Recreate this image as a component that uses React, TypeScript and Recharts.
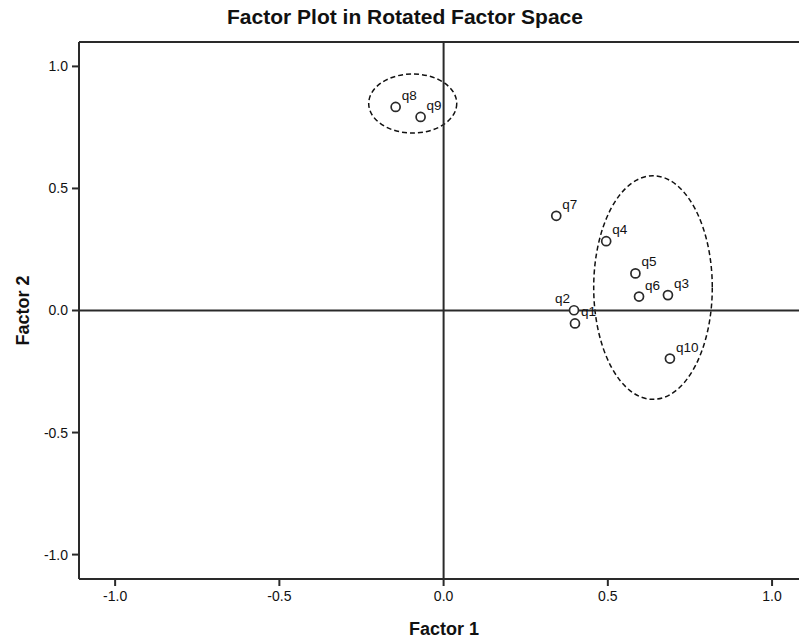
import React from 'react';
import {
  ScatterChart,
  Scatter,
  XAxis,
  YAxis,
  ReferenceLine,
  ReferenceArea,
} from 'recharts';

// ---- data ----
const ITEMS = ['q1', 'q2', 'q3', 'q4', 'q5', 'q6', 'q7', 'q8', 'q9', 'q10'];
const FACTOR1 = [0.4, 0.397, 0.683, 0.495, 0.584, 0.595, 0.343, -0.146, -0.07, 0.689];
const FACTOR2 = [-0.053, 0.001, 0.063, 0.284, 0.152, 0.057, 0.388, 0.834, 0.793, -0.197];
const LABEL_SIDE = ['right', 'left', 'right', 'right', 'right', 'right', 'right', 'right', 'right', 'right'];

const TICKS = [-1.0, -0.5, 0.0, 0.5, 1.0];
const X_DOMAIN: [number, number] = [-1.11, 1.082];
const Y_DOMAIN: [number, number] = [-1.1, 1.1];

// cluster ellipses (bounding boxes in factor units)
const CLUSTER_X1 = [-0.228, 0.457];
const CLUSTER_X2 = [0.04, 0.818];
const CLUSTER_Y1 = [0.727, -0.364];
const CLUSTER_Y2 = [0.969, 0.552];

const TITLE = 'Factor Plot in Rotated Factor Space';
const X_TITLE = 'Factor 1';
const Y_TITLE = 'Factor 2';

const data = ITEMS.map((name, i) => ({
  name,
  x: FACTOR1[i],
  y: FACTOR2[i],
  side: LABEL_SIDE[i],
}));

const FONT = '"Liberation Sans", Arial, Helvetica, sans-serif';
const AXIS_COLOR = '#2a2a2a';

const PointShape = (props: any) => {
  const { cx, cy, payload } = props;
  if (cx == null || cy == null) return null;
  const left = payload.side === 'left';
  return (
    <g>
      <circle cx={cx} cy={cy} r={4.5} fill="#fff" stroke="#2a2a2a" strokeWidth={1.7} />
      <text
        x={left ? cx - 4 : cx + 6}
        y={cy - 7}
        textAnchor={left ? 'end' : 'start'}
        fontFamily={FONT}
        fontSize={13.5}
        fill="#111"
      >
        {payload.name}
      </text>
    </g>
  );
};

const EllipseShape = (props: any) => {
  const { x, y, width, height } = props;
  if (x == null || y == null) return null;
  return (
    <ellipse
      cx={x + width / 2}
      cy={y + height / 2}
      rx={Math.abs(width) / 2}
      ry={Math.abs(height) / 2}
      fill="none"
      stroke="#111"
      strokeWidth={1.5}
      strokeDasharray="5 3"
    />
  );
};

const fmt = (v: number) => v.toFixed(1);

export default function App() {
  return (
    <div style={{ position: 'absolute', left: 0, top: 0, width: 799, height: 639, background: '#fff' }}>
      <div
        style={{
          position: 'absolute',
          left: 0,
          width: 810,
          top: 5,
          textAlign: 'center',
          fontFamily: FONT,
          fontWeight: 'bold',
          fontSize: 21,
          color: '#111',
          lineHeight: '24px',
        }}
      >
        {TITLE}
      </div>
      <ScatterChart width={799} height={639} margin={{ top: 42, right: 0, bottom: 0, left: 0 }}>
        <XAxis
          type="number"
          dataKey="x"
          domain={X_DOMAIN}
          allowDataOverflow
          ticks={TICKS}
          tickFormatter={fmt}
          height={60}
          tickSize={7}
          tickMargin={5}
          stroke={AXIS_COLOR}
          strokeWidth={2}
          tick={{ fontFamily: FONT, fontSize: 14, fill: '#111' }}
          label={{
            content: (p: any) => {
              const vb = p.viewBox || {};
              return (
                <text
                  x={444}
                  y={(vb.y || 579) + 56}
                  textAnchor="middle"
                  fontFamily={FONT}
                  fontWeight="bold"
                  fontSize={18}
                  fill="#111"
                >
                  {X_TITLE}
                </text>
              );
            },
          }}
        />
        <YAxis
          type="number"
          dataKey="y"
          domain={Y_DOMAIN}
          allowDataOverflow
          ticks={TICKS}
          tickFormatter={fmt}
          width={79}
          tickSize={7}
          tickMargin={4}
          stroke={AXIS_COLOR}
          strokeWidth={2}
          tick={{ fontFamily: FONT, fontSize: 14, fill: '#111' }}
          label={{
            content: (p: any) => {
              const vb = p.viewBox || {};
              const cy = (vb.y || 42) + (vb.height || 537) / 2;
              return (
                <text
                  x={29}
                  y={cy}
                  transform={`rotate(-90, 29, ${cy})`}
                  textAnchor="middle"
                  fontFamily={FONT}
                  fontWeight="bold"
                  fontSize={18}
                  fill="#111"
                >
                  {Y_TITLE}
                </text>
              );
            },
          }}
        />
        <ReferenceLine y={Y_DOMAIN[1]} stroke={AXIS_COLOR} strokeWidth={2} ifOverflow="visible" />
        <ReferenceLine x={0} stroke={AXIS_COLOR} strokeWidth={2} />
        <ReferenceLine y={0} stroke={AXIS_COLOR} strokeWidth={2} />
        {CLUSTER_X1.map((x1, i) => (
          <ReferenceArea
            key={i}
            x1={x1}
            x2={CLUSTER_X2[i]}
            y1={CLUSTER_Y1[i]}
            y2={CLUSTER_Y2[i]}
            shape={EllipseShape}
            ifOverflow="visible"
          />
        ))}
        <Scatter data={data} shape={PointShape} isAnimationActive={false} />
      </ScatterChart>
    </div>
  );
}
